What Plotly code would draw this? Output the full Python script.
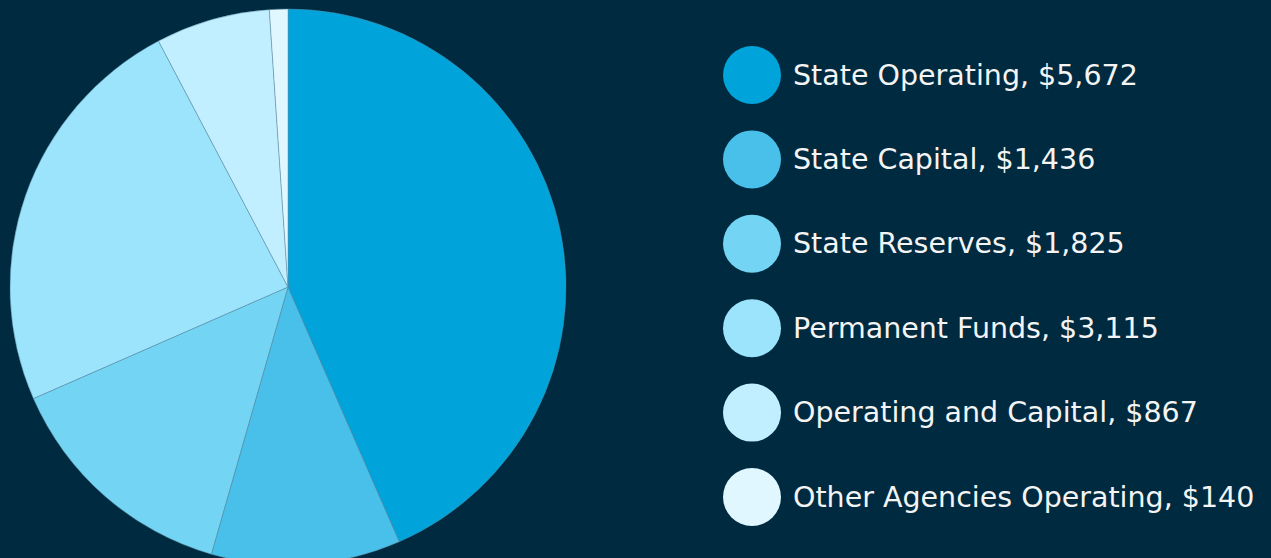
import plotly.graph_objects as go

labels = ["State Operating", "State Capital", "State Reserves", "Permanent Funds",
          "Operating and Capital", "Other Agencies Operating"]
values = [5672, 1436, 1825, 3115, 867, 140]
colors = ["#00A3DA", "#48C0EA", "#73D4F3", "#9CE4FC", "#C2EFFF", "#E0F7FF"]
legend_text = [f"{l}, ${v:,}" for l, v in zip(labels, values)]

W, H = 1271, 566   # slightly taller than the window; the pie runs off the bottom edge
BG = "#002A3F"

fig = go.Figure()
fig.add_trace(go.Pie(
    labels=labels, values=values, sort=False, direction="clockwise", rotation=0,
    marker=dict(colors=colors, line=dict(color="rgba(90,140,165,0.8)", width=0.6)),
    textinfo="none", hoverinfo="label+value", showlegend=False,
    domain=dict(x=[10 / W, 566 / W], y=[(H - 565) / H, (H - 9) / H]),
))

# custom legend: large circles + text
idx = list(range(len(labels)))
fig.add_trace(go.Scatter(
    x=[752] * len(labels), y=idx, mode="markers",
    marker=dict(size=58, color=colors, line=dict(width=0)),
    hoverinfo="skip", showlegend=False,
))
for i, t in zip(idx, legend_text):
    fig.add_annotation(x=793, y=i, xref="x", yref="y", text=t, showarrow=False,
                       xanchor="left", yanchor="middle", xshift=-2,
                       font=dict(family="DejaVu Sans", size=28.5, color="#F4F4F4"))

step = 84.4
fig.update_layout(
    width=W, height=H, margin=dict(l=0, r=0, t=0, b=0),
    paper_bgcolor=BG, plot_bgcolor=BG,
    xaxis=dict(range=[0, W], visible=False, fixedrange=True),
    yaxis=dict(range=[(H - 75) / step, -75 / step], visible=False, fixedrange=True),
)
fig.write_html("out.html", config={"displayModeBar": False},
               post_script="document.body.style.margin='0';"
                           "document.body.style.overflow='hidden';"
                           "document.documentElement.style.overflow='hidden';"
                           "document.documentElement.style.background='" + BG + "';")
